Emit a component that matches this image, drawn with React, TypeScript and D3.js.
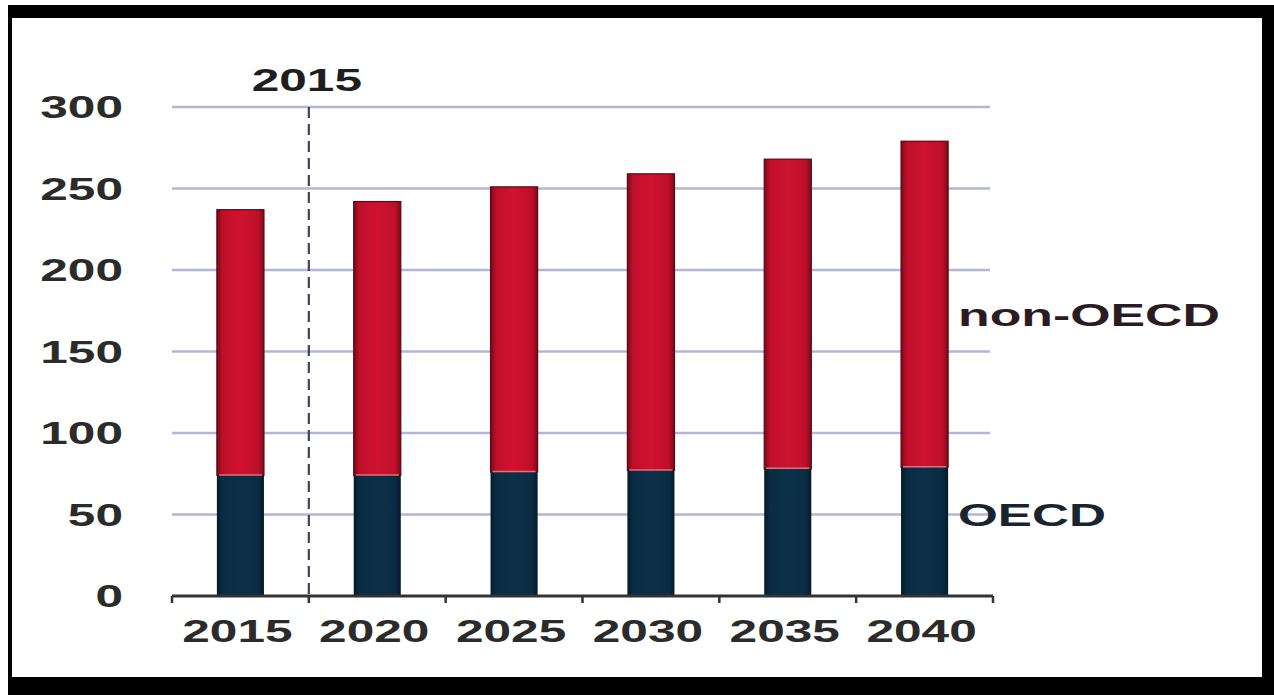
import React from "react";
import * as d3 from "d3";

const years = ["2015", "2020", "2025", "2030", "2035", "2040"];
const oecd = [74, 74, 76, 77, 78, 79];
const total = [237, 242, 251, 259, 268, 279];
const yTicks = [0, 50, 100, 150, 200, 250, 300];
const markerLabel = "2015";
const seriesLabels = ["non-OECD", "OECD"];

const W = 1274;
const H = 695;
const FONT = "'Liberation Sans', Arial, sans-serif";
const SX = 1.55;

function StretchText(props: {
  x: number;
  y: number;
  anchor: "start" | "middle" | "end";
  size: number;
  fill: string;
  sx?: number;
  children: React.ReactNode;
}) {
  return (
    <text
      transform={`translate(${props.x},${props.y}) scale(${props.sx ?? SX},1)`}
      textAnchor={props.anchor}
      fontFamily={FONT}
      fontWeight={700}
      fontSize={props.size}
      fill={props.fill}
    >
      {props.children}
    </text>
  );
}

export default function App() {
  const x = d3
    .scaleBand<string>()
    .domain(years)
    .range([172, 993])
    .paddingInner(0.656)
    .paddingOuter(0.328);
  const y = d3.scaleLinear().domain([0, 300]).range([596, 107]);
  const step = x.step();
  const left = 172;
  const right = 993;
  const boundaries = d3.range(years.length + 1).map((i) => left + i * step);

  return (
    <svg
      width={W}
      height={H}
      style={{ position: "absolute", left: 0, top: 0, background: "#fff" }}
    >
      <defs>
        <linearGradient id="redG" x1="0" x2="1" y1="0" y2="0">
          <stop offset="0%" stopColor="#7a0a18" />
          <stop offset="12%" stopColor="#bf0f2a" />
          <stop offset="50%" stopColor="#cf1230" />
          <stop offset="88%" stopColor="#bf0f2a" />
          <stop offset="100%" stopColor="#7a0a18" />
        </linearGradient>
        <linearGradient id="navyG" x1="0" x2="1" y1="0" y2="0">
          <stop offset="0%" stopColor="#041a28" />
          <stop offset="12%" stopColor="#0a2c43" />
          <stop offset="50%" stopColor="#0c3049" />
          <stop offset="88%" stopColor="#0a2c43" />
          <stop offset="100%" stopColor="#041a28" />
        </linearGradient>
      </defs>
      <rect x={0} y={0} width={W} height={H} fill="#fff" />

      {/* gridlines */}
      {yTicks
        .filter((t) => t > 0)
        .map((t) => (
          <line
            key={t}
            x1={172}
            x2={990}
            y1={y(t)}
            y2={y(t)}
            stroke="#b3b6d6"
            strokeWidth={2.5}
          />
        ))}

      {/* dashed marker line */}
      <line
        x1={boundaries[1]}
        x2={boundaries[1]}
        y1={y(300)}
        y2={y(0)}
        stroke="#3e435e"
        strokeWidth={2.2}
        strokeDasharray="11,6"
      />
      <StretchText x={boundaries[1] - 2} y={91} anchor="middle" size={31} sx={1.6} fill="#1e1e1e">
        {markerLabel}
      </StretchText>

      {/* bars */}
      {years.map((yr, i) => {
        const bx = x(yr)!;
        const bw = x.bandwidth();
        return (
          <g key={yr}>
            <rect
              x={bx}
              y={y(total[i])}
              width={bw}
              height={y(oecd[i]) - y(total[i])}
              fill="url(#redG)"
              stroke="#5a0812"
              strokeWidth={1.2}
            />
            <rect
              x={bx}
              y={y(oecd[i])}
              width={bw}
              height={y(0) - y(oecd[i])}
              fill="url(#navyG)"
            />
            <line
              x1={bx + 2}
              x2={bx + bw - 2}
              y1={y(oecd[i]) - 0.5}
              y2={y(oecd[i]) - 0.5}
              stroke="#e2707e"
              strokeWidth={1.5}
            />
          </g>
        );
      })}

      {/* x axis */}
      <line x1={left} x2={right} y1={y(0)} y2={y(0)} stroke="#333" strokeWidth={3} />
      {boundaries.map((b, i) => (
        <line
          key={i}
          x1={b}
          x2={b}
          y1={y(0)}
          y2={y(0) + 7}
          stroke="#333"
          strokeWidth={2.5}
        />
      ))}
      {years.map((yr) => (
        <StretchText
          key={yr}
          x={x(yr)! + x.bandwidth() / 2 - 3}
          y={642}
          anchor="middle"
          size={31}
          sx={1.6}
          fill="#2b2b2b"
        >
          {yr}
        </StretchText>
      ))}

      {/* y labels */}
      {yTicks.map((t) => (
        <StretchText key={t} x={123} y={y(t) + 11} anchor="end" size={31} sx={1.6} fill="#2b2b2b">
          {t}
        </StretchText>
      ))}

      {/* series labels */}
      <StretchText x={958} y={326} anchor="start" size={32} sx={1.62} fill="#2a1c22">
        {seriesLabels[0]}
      </StretchText>
      <StretchText x={958} y={526} anchor="start" size={32} sx={1.6} fill="#182430">
        {seriesLabels[1]}
      </StretchText>

      {/* black frame */}
      <rect x={8} y={5} width={1266} height={13} fill="#000" />
      <rect x={8} y={5} width={4} height={690} fill="#000" />
      <rect x={1262} y={5} width={12} height={690} fill="#000" />
      <rect x={8} y={677} width={1266} height={18} fill="#000" />
    </svg>
  );
}
